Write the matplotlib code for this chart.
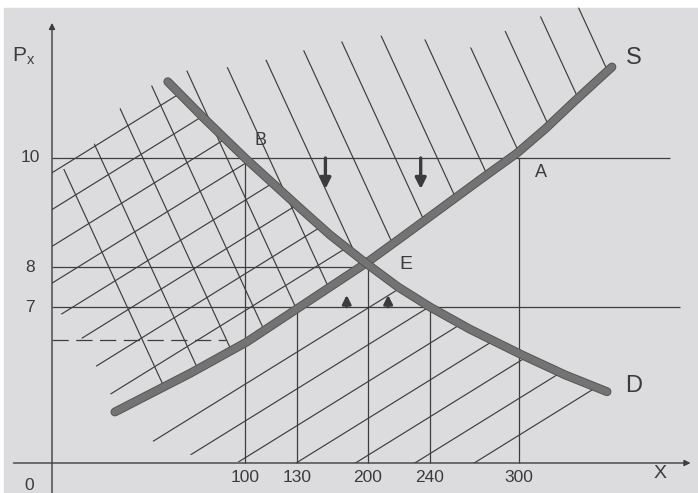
import numpy as np
import matplotlib.pyplot as plt
import matplotlib.patheffects as pe
from matplotlib.patches import Polygon, Rectangle

plt.rcParams['font.family'] = ['Liberation Sans', 'DejaVu Sans']

# supply (S) and demand (D), quantity X against price Px
s_q = [32.6, 50.8, 71.5, 101, 130, 162.5, 198, 223.9, 246.7, 273.7, 298.7, 317.4, 337.5, 362.3]
s_p = [2.29, 3.10, 4.02, 5.43, 6.92, 7.5, 8.07, 8.59, 9.06, 9.60, 10.09, 10.53, 11.05, 11.67]
d_q = [60, 79, 100, 133, 162.5, 198, 219.4, 240, 267, 302, 331, 359]
d_p = [11.4, 10.72, 10.0, 9.08, 8.59, 8.07, 7.5, 7.0, 6.0, 4.85, 3.95, 3.2]

x_ticks = [100, 130, 200, 240, 300]
y_ticks = [10, 8, 7]

# guide lines: price levels (and how far right they run), quantities (and how high)
h_price = [10, 8, 7]
h_end = [401, 198, 408]
v_qty = [100, 130, 200, 240, 300]
v_top = [10, 6.92, 8, 7, 10]
floor_price, floor_end = 5.5, 90

# small arrows: pressure down from 10, up from 7
down_q = [158, 234]
up_q = [179, 213]

# free-hand edges of the shaded areas
top_q = [0, 19, 34, 52, 73, 94, 116, 146, 182, 212, 238, 269, 289, 309, 331, 350]
top_p = [9.65, 10.11, 10.88, 11.34, 11.65, 11.67, 11.83, 12.02, 12.17, 12.26,
         12.17, 12.02, 12.31, 12.57, 12.68, 12.85]
low_q = [0, 13, 21, 28.5, 54, 78, 103]
low_p = [7.05, 5.97, 4.71, 3.27, 0.81, 0.22, 0]

# the sketch is not to scale: put each labelled value where it sits
q_knots = [-27, 0, 100, 130, 200, 240, 300, 420]
q_at = [0, 52, 245, 297, 368, 430, 519, 698]
p_knots = [-1.35, 0, 7, 8, 10, 12.9]
p_at = [0, 30, 186, 226, 335, 493]

ink = '#3b3b3b'
thin = '#3d3d3d'
W, H = 698, 493

fig = plt.figure(figsize=(6.98, 4.93), dpi=100)
fig.patch.set_facecolor('white')
fig.add_artist(Rectangle((4 / W, 0), 1, 485 / H, transform=fig.transFigure,
                         color='#dcdcde', zorder=-1))

ax = fig.add_axes([0, 0, 1, 1])
ax.set_xscale('function', functions=(lambda v: np.interp(v, q_knots, q_at),
                                     lambda v: np.interp(v, q_at, q_knots)))
ax.set_yscale('function', functions=(lambda v: np.interp(v, p_knots, p_at),
                                     lambda v: np.interp(v, p_at, p_knots)))
ax.set_xlim(q_knots[0], q_knots[-1])
ax.set_ylim(p_knots[0], p_knots[-1])
ax.axis('off')

# clip areas for the two hatchings
above_s = Polygon(list(zip(top_q, top_p)) + list(zip(s_q[::-1], s_p[::-1])),
                  closed=True, fc='none', ec='none')
below_d = Polygon([(0, 12.0), (d_q[0], 12.0)] + list(zip(d_q, d_p)) + [(d_q[-1], 0)]
                  + list(zip(low_q[::-1], low_p[::-1])),
                  closed=True, fc='none', ec='none')
ax.add_patch(above_s)
ax.add_patch(below_d)


def hatch(offsets, steep, clip):
    for c in offsets:
        if steep:
            y = np.array([0, H])
            x = c + 0.46 * y
        else:
            x = np.array([0, W])
            y = c - 0.62 * x
        ln, = ax.plot(x / W, 1 - y / H, transform=ax.transAxes, color=thin,
                      lw=0.85, zorder=2)
        ln.set_clip_path(clip)


hatch(-14 + 42.07 * np.arange(15), True, above_s)
hatch(np.delete(205 + 36.8 * np.arange(16), 8), False, below_d)

# guide lines
ax.hlines(h_price, 0, h_end, color=thin, lw=0.9, zorder=2)
ax.vlines(v_qty, 0, v_top, color=thin, lw=0.9, zorder=2)
ax.plot([0, floor_end], [floor_price, floor_price], color=thin, lw=0.9,
        ls=(0, (13, 6)), zorder=2)

# axes with arrow tips
axis_arrow = dict(arrowstyle='-|>', lw=1.0, color=thin, mutation_scale=9,
                  shrinkA=0, shrinkB=0)
ax.annotate('', xy=(0, 12.48), xytext=(0, p_knots[0]), arrowprops=axis_arrow)
ax.annotate('', xy=(415, 0), xytext=(-20, 0), arrowprops=axis_arrow)

# supply and demand curves
curve_fx = [pe.Stroke(linewidth=6.4, foreground='#555555'), pe.Normal()]
ax.plot(s_q, s_p, color='#737373', lw=5, solid_capstyle='round',
        solid_joinstyle='round', zorder=4, path_effects=curve_fx)
ax.plot(d_q, d_p, color='#737373', lw=5, solid_capstyle='round',
        solid_joinstyle='round', zorder=4, path_effects=curve_fx)

# excess supply / demand arrows
for q in down_q:
    ax.annotate('', xy=(q, 9.43), xytext=(q, 10.0),
                arrowprops=dict(arrowstyle='-|>', lw=2.4, color=ink,
                                mutation_scale=16, shrinkA=0, shrinkB=0))
for q in up_q:
    ax.annotate('', xy=(q, 7.3), xytext=(q, 7.0),
                arrowprops=dict(arrowstyle='-|>', lw=2.0, color=ink,
                                mutation_scale=13, shrinkA=0, shrinkB=0))

# tick labels
for q in x_ticks:
    ax.annotate(str(q), (q, 0), xytext=(0, -15), textcoords='offset pixels',
                ha='center', va='center', fontsize=12.5, color=ink)
for p in y_ticks:
    ax.annotate(str(p), (0, p), xytext=(-22, 0), textcoords='offset pixels',
                ha='center', va='center', fontsize=12.5, color=ink)
ax.annotate('0', (0, 0), xytext=(-23, -22), textcoords='offset pixels',
            ha='center', va='center', fontsize=12.5, color=ink)

# point and curve labels
ax.text(377, 11.83, 'S', fontsize=17, color=ink, ha='center', va='center')
ax.text(377, 3.45, 'D', fontsize=17, color=ink, ha='center', va='center')
ax.text(314.7, 9.74, 'A', fontsize=13, color=ink, ha='center', va='center')
ax.text(109, 10.33, 'B', fontsize=13, color=ink, ha='center', va='center')
ax.text(224.5, 8.04, 'E', fontsize=14, color=ink, ha='center', va='center')
ax.text(394.5, -0.45, 'X', fontsize=14, color=ink, ha='center', va='center')
ax.text(-21, 11.86, r'$\mathregular{P_x}$', fontsize=15, color=ink,
        ha='left', va='center')

fig.savefig('out.png', dpi=100, facecolor=fig.get_facecolor())
